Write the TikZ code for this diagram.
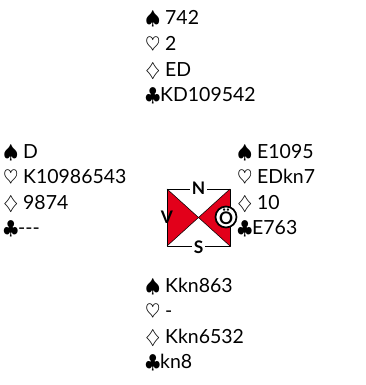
\documentclass[tikz,border=0pt]{standalone}
\usepackage{amssymb}
\usepackage{fontspec}
\setmainfont{Lato}
\definecolor{kompassrot}{RGB}{226,0,26}
\tikzset{
  hand/.style={anchor=base west,inner sep=0pt,font=\fontsize{14.6}{17}\selectfont},
  himmel/.style={font=\fontsize{13}{14}\selectfont\bfseries,inner sep=1pt}
}

\begin{document}
\begin{tikzpicture}[line cap=round,line join=round,x=0.75pt,y=-0.75pt]
\useasboundingbox (0,0) rectangle (366,385);
% Nord
\foreach \t [count=\i] in {{$\spadesuit$ 742},{$\heartsuit$ 2},{$\diamondsuit$ ED},{$\clubsuit$KD109542}}
  \node[hand] (nord\i) at (145,{25+25.6*(\i-1)}) {\t};
% West
\foreach \t [count=\i] in {{$\spadesuit$ D},{$\heartsuit$ K10986543},{$\diamondsuit$ 9874},{$\clubsuit$-{}-{}-}}
  \node[hand] (west\i) at (3,{158+25.6*(\i-1)}) {\t};
% Ost
\foreach \t [count=\i] in {{$\spadesuit$ E1095},{$\heartsuit$ EDkn7},{$\diamondsuit$ 10},{$\clubsuit$E763}}
  \node[hand] (ost\i) at (237,{158+25.6*(\i-1)}) {\t};
% Sued
\foreach \t [count=\i] in {{$\spadesuit$ Kkn863},{$\heartsuit$ -},{$\diamondsuit$ Kkn6532},{$\clubsuit$kn8}}
  \node[hand] (sued\i) at (145,{292+25.6*(\i-1)}) {\t};
% Kompass
\coordinate (lo) at (167,189);
\coordinate (ro) at (230,189);
\coordinate (lu) at (167,246);
\coordinate (ru) at (230,246);
\coordinate (mitte) at (198.5,217.5);
\fill[kompassrot] (lo) -- (mitte) -- (lu) -- cycle;
\fill[kompassrot] (ro) -- (mitte) -- (ru) -- cycle;
\draw[thin] (lo) rectangle (ru);
\draw[thin] (lo) -- (ru);
\draw[thin] (ro) -- (lu);
\node[himmel,fill=white] (n) at (198.5,188) {N};
\node[himmel,fill=white] (s) at (198.5,247) {S};
\node[himmel] (v) at (167,217.5) {V};
\node[himmel,circle,draw,fill=white,line width=1.3pt,minimum size=15pt,inner sep=0pt] (oe) at (226,217) {Ö};
\end{tikzpicture}
\end{document}
